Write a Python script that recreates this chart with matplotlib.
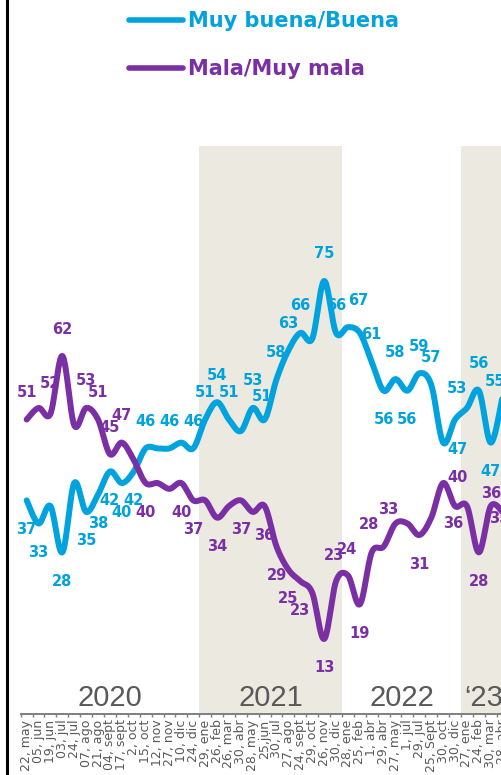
import numpy as np
import matplotlib
matplotlib.use("Agg")
import matplotlib.pyplot as plt
from matplotlib.lines import Line2D

# ---------------- data ----------------
dates = ["22, may", "05, jun", "19, jun", "03, jul", "24, jul", "07, ago", "21, ago",
         "04, sept", "17, sept", "2, oct", "15, oct", "12, nov", "27, nov", "10, dic",
         "24, dic", "29, ene", "26, feb", "26, mar", "30, abr", "28, may", "25,jun",
         "30, jul", "27, ago", "24, sept", "29, oct", "26, nov", "30, dic", "28, ene",
         "25, feb", "1, abr", "29, abr", "27, may", "1, jul", "29, jul", "25, Sept",
         "30, oct", "30, dic", "27, ene", "24, feb", "30, mar", "28, abr"]
years = ["2020", "2021", "2022", "\u201823"]
year_counts = [15, 12, 10, 4]

buena = [37, 33, 36, 28, 40, 35, 38, 42, 40, 42, 46, 46, 46, 47, 46, 51, 54, 51, 49, 53, 51,
         58, 63, 66, 65, 75, 66, 67, 66, 61, 56, 58, 56, 59, 57, 47, 51, 53, 56, 47, 55]
mala = [51, 53, 52, 62, 50, 53, 51, 45, 47, 44, 40, 40, 39, 40, 37, 37, 34, 36, 37, 35, 36,
        29, 25, 23, 21, 13, 23, 24, 19, 28, 29, 33, 33, 31, 34, 40, 36, 36, 28, 36, 35]

buena_labeled = [0, 1, 3, 5, 6, 7, 8, 9, 10, 12, 14, 15, 16, 17, 19, 20, 21, 22, 23, 25, 26,
                 27, 29, 30, 31, 32, 33, 34, 35, 37, 38, 39, 40]
mala_labeled = [0, 2, 3, 5, 6, 7, 8, 10, 13, 14, 16, 18, 20, 21, 22, 23, 25, 26, 27, 28, 29,
                31, 33, 35, 36, 38, 39, 40]

series_names = ["Muy buena/Buena", "Mala/Muy mala"]

# ---------------- style ----------------
BLUE = "#00a3dd"
PURPLE = "#7b2fa5"
BAND = "#ece9e0"
GRAY = "#595959"
AXGRAY = "#7f7f7f"

W, H = 502, 775
fig = plt.figure(figsize=(W / 100, H / 100), dpi=100)

x0, step = 20.7, 11.9
y_axis, y_top, ppu = 714, 146, 5.774
right_px = 560
ax = fig.add_axes([x0 / W, (H - y_axis) / H, (right_px - x0) / W, (y_axis - y_top) / H])
xmax = -0.5 + (right_px - x0) / step
ax.set_xlim(-0.5, xmax)
ax.set_ylim(0, (y_axis - y_top) / ppu)

# year bands
start = 0
for k, (yr, c) in enumerate(zip(years, year_counts)):
    end = start + c
    last = k == len(years) - 1
    if k % 2 == 1:
        ax.axvspan(start - 0.5, xmax if last else end - 0.5, color=BAND, zorder=0, lw=0)
    if last:
        ax.text(start - 0.5 + 0.3, 1.4, yr, ha="left", va="baseline",
                fontsize=21, color=GRAY, family="Liberation Sans")
    else:
        ax.text((start + end - 1) / 2, 1.4, yr, ha="center", va="baseline",
                fontsize=21, color=GRAY, family="Liberation Sans")
    start = end


def smooth(xs, ys, n=24):
    P = np.column_stack([xs, ys]).astype(float)
    P = np.vstack([P[0], P, P[-1]])
    t = np.linspace(0, 1, n, endpoint=False)[:, None]
    out = []
    for i in range(1, len(P) - 2):
        p0, p1, p2, p3 = P[i - 1], P[i], P[i + 1], P[i + 2]
        seg = 0.5 * ((2 * p1) + (-p0 + p2) * t + (2 * p0 - 5 * p1 + 4 * p2 - p3) * t ** 2
                     + (-p0 + 3 * p1 - 3 * p2 + p3) * t ** 3)
        out.append(seg)
    out.append(P[-2][None, :])
    return np.vstack(out)


x = np.arange(len(buena))
for vals, col in [(buena, BLUE), (mala, PURPLE)]:
    s = smooth(x, vals)
    ax.plot(s[:, 0], s[:, 1], color=col, lw=4.3, solid_capstyle="round",
            solid_joinstyle="round", zorder=3)

# label placement (pixel offsets)
ABOVE, BELOW = (0, 27), (0, -29)
buena_below = {0, 1, 3, 5, 6, 7, 8, 9, 30, 32, 39}
buena_special = {27: (10, 27), 35: (14, -7), 37: (-10, 19), 40: (-8, 15), 20: (-3, 23)}
mala_below = {10, 13, 14, 16, 18, 20, 21, 22, 23, 25, 28, 33, 36, 38}
mala_special = {31: (-7, 14), 35: (14, 6), 36: (-2, -17), 39: (0, 13), 40: (-3, -7),
                2: (0, 30), 29: (-3, 28), 26: (-2, 26), 27: (-1, 26)}

for vals, idx, below, special, col in [
        (buena, buena_labeled, buena_below, buena_special, BLUE),
        (mala, mala_labeled, mala_below, mala_special, PURPLE)]:
    for i in idx:
        if i in special:
            dx, dy = special[i]
        elif i in below:
            dx, dy = BELOW
        else:
            dx, dy = ABOVE
        ax.annotate(str(vals[i]), (i, vals[i]), xytext=(dx * 0.72, dy * 0.72),
                    textcoords="offset points", ha="center", va="center",
                    fontsize=10.5, fontweight="bold", color=col, zorder=2)

# axes styling
for sp in ["left", "right", "top"]:
    ax.spines[sp].set_visible(False)
ax.spines["bottom"].set_color(AXGRAY)
ax.spines["bottom"].set_linewidth(1.4)
ax.set_yticks([])
ax.set_xticks(np.arange(len(dates)))
ax.set_xticklabels(dates, rotation=90, fontsize=9, color=GRAY)
ax.set_xticks(np.arange(-0.5, xmax, 1), minor=True)
ax.tick_params(axis="x", which="major", length=0, pad=4)
ax.tick_params(axis="x", which="minor", length=2.5, width=1, color=AXGRAY, direction="out")

# legend
for (name, col, yl, yb) in [(series_names[0], BLUE, 20, 27), (series_names[1], PURPLE, 68, 75)]:
    fig.add_artist(Line2D([129 / W, 183 / W], [1 - yl / H, 1 - yl / H], transform=fig.transFigure,
                          color=col, lw=4.0, solid_capstyle="round"))
    fig.text(188 / W, 1 - yb / H, name, ha="left", va="baseline", fontsize=15,
             fontweight="bold", color=col)

# left border bar
fig.add_artist(Line2D([6.5 / W, 6.5 / W], [0, 1], transform=fig.transFigure,
                      color="black", lw=2.2))

fig.savefig("out.png", dpi=100)
